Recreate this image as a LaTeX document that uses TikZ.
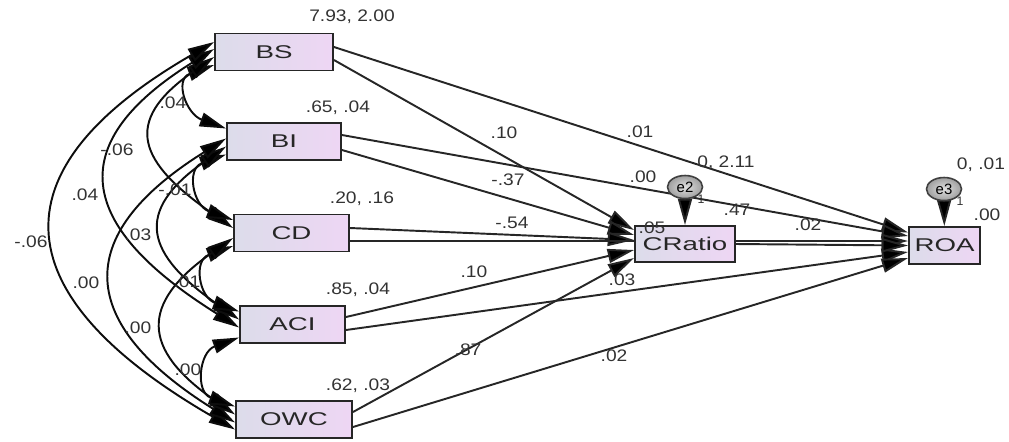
\documentclass[tikz,border=0pt]{standalone}
\usepackage{fontspec}
\setmainfont{Liberation Sans}
\newfontfamily\boxfont[FakeStretch=1.5]{Liberation Sans}
\newfontfamily\lblfont[FakeStretch=1.15]{Liberation Sans}
\usetikzlibrary{arrows.meta,shapes.geometric,backgrounds}
\definecolor{boxl}{RGB}{220,220,234}
\definecolor{boxr}{RGB}{238,214,244}

\begin{document}
\begin{tikzpicture}[var/.style={rectangle, draw=black!85, line width=1.1pt,
    left color=boxl, right color=boxr, minimum height=0.74cm, inner sep=0pt,
    text=black!85, font=\boxfont\fontsize{10.5}{12}\selectfont},
    err/.style={ellipse, draw=black!75, line width=0.9pt, inner color=gray!25,
    outer color=gray!75, minimum width=0.70cm, minimum height=0.46cm, inner sep=0pt,
    font=\fontsize{8.5}{9}\selectfont},
    lbl/.style={inner sep=0pt, text=black!80, font=\lblfont\fontsize{9.5}{11}\selectfont},
    >={Triangle[length=15pt,width=8pt,fill=black]},
    reg/.style={->, line width=1.1pt, draw=black!85},
    cov/.style={<->, line width=1.1pt, draw=black!95}]
    \useasboundingbox (0,0) rectangle (20.18,-8.82);
    \node[var, minimum width=2.36cm] (BS) at (5.48,-1.04) {BS};
    \node[var, minimum width=2.28cm] (BI) at (5.68,-2.83) {BI};
    \node[var, minimum width=2.30cm] (CD) at (5.83,-4.66) {CD};
    \node[var, minimum width=2.10cm] (ACI) at (5.85,-6.49) {ACI};
    \node[var, minimum width=2.32cm] (OWC) at (5.88,-8.39) {OWC};
    \node[var, minimum width=2.00cm, minimum height=0.72cm] (CR) at (13.70,-4.88) {CRatio};
    \node[var, minimum width=1.42cm] (ROA) at (18.89,-4.91) {ROA};
    \node[err] (e2) at (13.70,-3.74) {e2};
    \node[err] (e3) at (18.88,-3.78) {e3};
    \begin{pgfonlayer}{background}
    \draw[reg] ([yshift=-0.16cm]BS.east) -- ([yshift=0.28cm]CR.west);
    \draw[reg] ([yshift=0.10cm]BS.east) -- ([yshift=0.26cm]ROA.west);
    \draw[reg] ([yshift=-0.17cm]BI.east) -- ([yshift=0.18cm]CR.west);
    \draw[reg] ([yshift=0.13cm]BI.east) -- ([yshift=0.19cm]ROA.west);
    \draw[reg] ([yshift=0.10cm]CD.east) -- ([yshift=0.08cm]CR.west);
    \draw[reg] ([yshift=-0.16cm]CD.east) -- ([yshift=0.09cm]ROA.west);
    \draw[reg] ([yshift=0.15cm]ACI.east) -- ([yshift=-0.12cm]CR.west);
    \draw[reg] ([yshift=-0.11cm]ACI.east) -- ([yshift=-0.13cm]ROA.west);
    \draw[reg] ([yshift=0.15cm]OWC.east) -- ([yshift=-0.28cm]CR.west);
    \draw[reg] ([yshift=-0.15cm]OWC.east) -- ([yshift=-0.25cm]ROA.west);
    \draw[reg] (CR.east) -- (ROA.west);
    \draw[reg] (e2) -- (CR);
    \draw[reg] (e3) -- (ROA);
    \draw[cov] ([yshift=-0.26cm]BS.west) .. controls +(200:0.85) and +(160:0.85) .. ([yshift=0.26cm]BI.west);
    \draw[cov] ([yshift=-0.10cm]BS.west) .. controls +(215:2.28) and +(145:2.28) .. ([yshift=0.10cm]CD.west);
    \draw[cov] ([yshift=0.06cm]BS.west) .. controls +(212:3.7) and +(148:3.7) .. ([yshift=-0.06cm]ACI.west);
    \draw[cov] ([yshift=0.20cm]BS.west) .. controls +(210:5.24) and +(150:5.24) .. ([yshift=-0.20cm]OWC.west);
    \draw[cov] ([yshift=-0.26cm]BI.west) .. controls +(200:0.85) and +(160:0.85) .. ([yshift=0.26cm]CD.west);
    \draw[cov] ([yshift=-0.10cm]BI.west) .. controls +(215:2.28) and +(145:2.28) .. ([yshift=0.10cm]ACI.west);
    \draw[cov] ([yshift=0.06cm]BI.west) .. controls +(212:3.7) and +(148:3.7) .. ([yshift=-0.06cm]OWC.west);
    \draw[cov] ([yshift=-0.26cm]CD.west) .. controls +(200:0.85) and +(160:0.85) .. ([yshift=0.26cm]ACI.west);
    \draw[cov] ([yshift=-0.10cm]CD.west) .. controls +(215:2.28) and +(145:2.28) .. ([yshift=0.10cm]OWC.west);
    \draw[cov] ([yshift=-0.26cm]ACI.west) .. controls +(200:0.85) and +(160:0.85) .. ([yshift=0.26cm]OWC.west);
    \end{pgfonlayer}
    \node[lbl] (vBS) at (7.04,-0.34) {7.93, 2.00};
    \node[lbl] (vBI) at (6.76,-2.16) {.65, .04};
    \node[lbl] (vCD) at (7.24,-3.98) {.20, .16};
    \node[lbl] (vACI) at (7.16,-5.80) {.85, .04};
    \node[lbl] (vOWC) at (7.16,-7.72) {.62, .03};
    \node[lbl] (ve2) at (14.52,-3.26) {0, 2.11};
    \node[lbl] (ve3) at (19.62,-3.30) {0, .01};
    \node[lbl] (rROA) at (19.74,-4.30) {.00};
    \node[lbl] (rCR) at (13.04,-4.56) {.05};
    \node[lbl] (w1) at (10.08,-2.66) {.10};
    \node[lbl] (w2) at (12.80,-2.64) {.01};
    \node[lbl] (w3) at (10.16,-3.60) {-.37};
    \node[lbl] (w4) at (12.86,-3.54) {.00};
    \node[lbl] (w5) at (10.24,-4.46) {-.54};
    \node[lbl] (w6) at (14.74,-4.20) {.47};
    \node[lbl] (w7) at (16.16,-4.50) {.02};
    \node[lbl] (w8) at (9.48,-5.44) {.10};
    \node[lbl] (w9) at (12.44,-5.60) {.03};
    \node[lbl] (w10) at (9.36,-7.00) {.87};
    \node[lbl] (w11) at (12.28,-7.12) {.02};
    \node[lbl] (c1) at (3.46,-2.06) {.04};
    \node[lbl] (c2) at (2.34,-3.00) {-.06};
    \node[lbl] (c3) at (1.70,-3.90) {.04};
    \node[lbl] (c4) at (0.62,-4.84) {-.06};
    \node[lbl] (c5) at (3.50,-3.80) {-.01};
    \node[lbl] (c6) at (2.76,-4.70) {.03};
    \node[lbl] (c7) at (1.72,-5.66) {.00};
    \node[lbl] (c8) at (3.74,-5.64) {.01};
    \node[lbl] (c9) at (2.76,-6.56) {.00};
    \node[lbl] (c10) at (3.76,-7.40) {.00};
    \node[lbl, font=\fontsize{7}{8}\selectfont] (one2) at (14.02,-3.98) {1};
    \node[lbl, font=\fontsize{7}{8}\selectfont] (one3) at (19.20,-4.02) {1};
\end{tikzpicture}
\end{document}
